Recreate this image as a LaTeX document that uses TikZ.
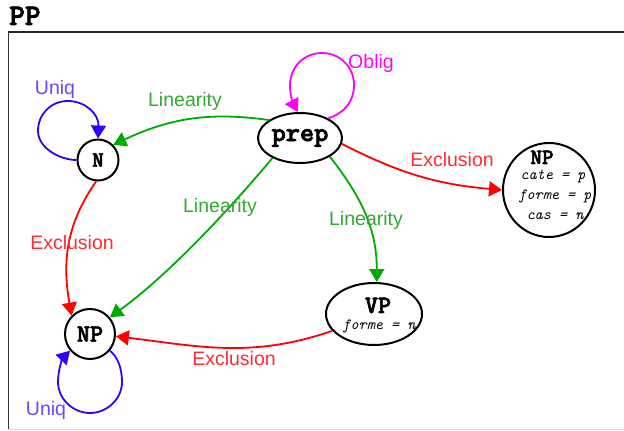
\documentclass[tikz,border=0pt]{standalone}
\usepackage{fontspec}
\setmainfont{Liberation Sans}
\newfontfamily\courb[FakeBold=2.5]{lmmonolt10-bold.otf}
\usetikzlibrary{shapes.geometric,arrows.meta}
\definecolor{lgreen}{RGB}{0,170,0}
\definecolor{lgreenT}{RGB}{50,170,50}
\definecolor{xred}{RGB}{255,0,0}
\definecolor{xredT}{RGB}{255,45,45}
\definecolor{ublue}{RGB}{50,0,255}
\definecolor{ublueT}{RGB}{105,70,255}
\definecolor{omag}{RGB}{255,0,255}
\begin{document}
\begin{tikzpicture}[x=1pt,y=1pt,
  statebox/.style={draw=black,line width=2pt,inner sep=0pt},
  conn/.style={line width=1.8pt,-{Triangle[length=13pt,width=15pt]}},
  lin/.style={conn,draw=lgreen},
  excl/.style={conn,draw=xred},
  uniq/.style={conn,draw=ublue},
  oblig/.style={conn,draw=omag},
  lbl/.style={font=\fontsize{19.5}{22}\selectfont,inner sep=0pt},
  attr/.style={font=\ttfamily\itshape\fontsize{15.5}{17}\selectfont,inner sep=0pt,anchor=base},
  ttl/.style={font=\courb\fontsize{#1}{#1}\selectfont,inner sep=0pt}
]
\useasboundingbox (0,0) rectangle (624,431);
\fill[white] (0,0) rectangle (624,431);
% frame
\draw[line width=2pt,black!85] (8,399) -- (624,399);
\draw[line width=1pt,black!80] (8,399) -- (8,0.6);
\draw[line width=1.3pt,black!15] (8,1.2) -- (624,1.2);
\node[ttl=30,anchor=base west] (title) at (9,406) {PP};

% nodes
\node[statebox,circle,minimum size=41pt,ttl=22] (N) at (98,271) {N};
\node[statebox,ellipse,minimum width=84pt,minimum height=50pt,ttl=27] (prep) at (300,293) {prep};
\node[statebox,ellipse,minimum width=92pt,minimum height=94pt] (NPr) at (549,241) {};
\node[ttl=22,anchor=base] (NPrT) at (542,267) {NP};
\node[attr] (a1) at (553,251) {cate = p};
\node[attr] (a2) at (555,231) {forme = p};
\node[attr] (a3) at (555,211) {cas = n};
\node[statebox,circle,minimum size=50pt,ttl=25] (NPl) at (90,97) {NP};
\node[statebox,ellipse,minimum width=96pt,minimum height=62pt] (VP) at (374,117) {};
\node[ttl=25,anchor=base] (VPT) at (378,118) {VP};
\node[attr] (a4) at (379,101) {forme = n};

% loops
\draw[uniq] (N.west) .. controls (60,271) and (38,283) .. (38,300)
   .. controls (38,317) and (51,330) .. (68,330)
   .. controls (85,330) and (99,317) .. (N.north);
\draw[oblig] (prep.35) .. controls (345,318) and (354,330) .. (354,346)
   .. controls (354,364) and (340,378) .. (322,378)
   .. controls (304,378) and (290,364) .. (290,346)
   .. controls (290,334) and (294,326) .. (prep.95);
\draw[uniq] (NPl.-40) .. controls (118,74) and (122,62) .. (122,49)
   .. controls (122,32) and (107,18) .. (90,18)
   .. controls (73,18) and (58,32) .. (58,49)
   .. controls (58,62) and (63,73) .. (NPl.220);

% connectors
\draw[lin] (prep.150) to[out=172,in=25] (N.45);
\draw[lin] (prep.216) to[out=230,in=36,looseness=0.8] (NPl.40);
\draw[lin] (prep.-32) to[out=-52,in=90] (VP.85);
\draw[excl] (prep.-8) to[out=-27,in=175] (NPr.west);
\draw[excl] (N.265) to[out=235,in=100] (NPl.135);
\draw[excl] (VP.202) to[out=199,in=-7] (NPl.-5);

% labels
\node[lbl,text=ublueT] (l1) at (55,342) {Uniq};
\node[lbl,text=omag] (l2) at (371,368) {Oblig};
\node[lbl,text=lgreenT] (l3) at (185,330) {Linearity};
\node[lbl,text=lgreenT] (l4) at (220,224) {Linearity};
\node[lbl,text=lgreenT] (l5) at (366,211) {Linearity};
\node[lbl,text=xredT] (l6) at (452,271) {Exclusion};
\node[lbl,text=xredT] (l7) at (72,188) {Exclusion};
\node[lbl,text=xredT] (l8) at (234,72) {Exclusion};
\node[lbl,text=ublueT] (l9) at (46,21) {Uniq};
\end{tikzpicture}
\end{document}
